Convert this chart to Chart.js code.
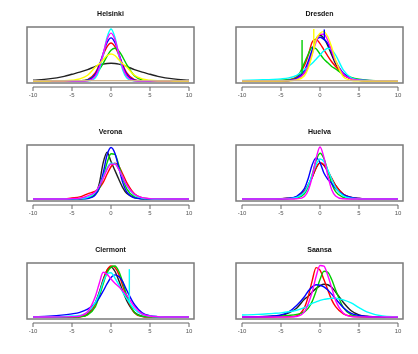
<!DOCTYPE html>
<html>
<head>
<meta charset="utf-8">
<script src="https://cdn.jsdelivr.net/npm/chart.js@4/dist/chart.umd.min.js"></script>
<style>
body{margin:0;background:#fff;}
#wrap{position:relative;width:418px;height:354px;}
.cell{position:absolute;width:209px;height:118px;}
</style>
</head>
<body>
<div id="wrap"></div>
<script>
// shared x grid for all density curves
const xs = [-10,-8,-6,-5,-4,-3,-2,-1.5,-1,-0.5,0,0.5,1,1.5,2,3,4,5,6,8,10]
const xTicks = [-10,-5,0,5,10]

// Helsinki
const hBlack   = [1.5,4,9,13,17,22,28,30.5,32.5,33.7,34,33.7,32.5,30.5,28,22,17,13,9,4,1.5]
const hRed     = [0,0,0,0,0.3,2.5,16,31,50,66,73,66,50,31,16,2.5,0.3,0,0,0,0]
const hGreen   = [0,0,0,0,0.4,2,12,22,34,48,59,63,58,46,32,10,2,0.4,0,0,0]
const hBlue    = [0,0,0,0,0.1,1.5,13,30,53,74,83,74,53,30,13,1.5,0.1,0,0,0,0]
const hCyan    = [0,0,0,0,0,0.3,6,21,50,84,100,84,50,21,6,0.3,0,0,0,0,0]
const hMagenta = [0,0,0,0,0,0.6,10,26,53,80,92,80,53,26,10,0.6,0,0,0,0,0]
const hYellow  = [0,0.1,0.5,1.5,4,11,27,33,41,49,52,49,41,33,27,11,4,1.5,0.5,0.1,0]
const hTan     = [0.8,0.8,0.8,0.8,0.8,0.8,0.8,0.8,0.8,0.8,0.8,0.8,0.8,0.8,0.8,0.8,0.8,0.8,0.8,0.8,0.8]

// Dresden
const dBlack   = [0,0,0,0.2,1,4,15,30,55,80,88,82,68,50,33,12,4,1.5,0.5,0,0]
const dRed     = [0,0,0.3,0.8,2,8,30,50,75,80,72,60,48,37,28,12,4,1.5,0.5,0,0]
const dGreen   = [0,0,0.5,1.5,3,6,35,52,65,62,52,42,35,28,23,13,7,3.5,1.5,0.3,0]
const dBlue    = [0,0,0,0.2,1,5,20,38,60,78,84,80,72,55,38,15,5,2,1,0.2,0]
const dCyan    = [1,2,3,4,6,11,22,28,34,42,50,58,63,60,50,21,6,2,0.8,0.2,0]
const dMagenta = [0,0,0,0.3,1,3,15,30,52,75,90,90,78,58,38,13,4,1.5,0.5,0,0]
const dYellow  = [0,0,0,0,0.3,2,10,25,50,80,92,95,85,65,40,8,1.5,0.3,0,0,0]
const dTan     = [0.8,0.8,0.8,0.8,0.8,0.8,0.8,0.8,0.8,0.8,0.8,0.8,0.8,0.8,0.8,0.8,0.8,0.8,0.8,0.8,0.8]

// Verona
const vBlack   = [0,0,0,0.1,0.5,2.5,10,30,70,90,72,55,38,22,11,2.5,0.5,0.1,0,0,0]
const vRed     = [0,0,0.5,2,4,10,15,21,32,48,62,69,63,48,32,10,2.5,0.6,0.2,0,0]
const vGreen   = [0,0,0,0,0.5,1.5,9,20,42,70,87,86,65,40,20,4,0.8,0.2,0,0,0]
const vBlue    = [0,0,0,0,0.3,1,8,22,50,85,99,88,60,32,14,2,0.3,0,0,0,0]
const vCyan    = [0,0,0,0.3,1,3,13,25,42,60,69,68,57,42,26,8,2,0.5,0,0,0]
const vMagenta = [0,0,0,0.7,1.5,6,14,25,40,57,67,67,57,42,27,9,2.5,0.7,0.2,0,0]

// Huelva
const uBlack   = [0,0,0.8,0.6,1.5,4,15,27,42,60,69,65,53,39,26,9,3,1,0.3,0,0]
const uRed     = [0,0,0.3,0.6,1.5,4,15,27,42,60,70,66,54,40,26,9,3,1,0.3,0,0]
const uGreen   = [0,0,0,0.2,0.6,2,10,24,47,74,88,78,54,30,14,3,0.6,0.2,0,0,0]
const uBlue    = [0,0,0.2,0.5,1.5,5,20,40,66,79,70,50,38,30,20,8,3,1,0.3,0,0]
const uCyan    = [0,0,0,0.3,1,3,13,27,46,66,77,72,56,38,22,6,1.5,0.4,0,0,0]
const uMagenta = [0,0,0,0,0,0.5,5,17,42,78,100,80,45,18,6,0.5,0,0,0,0,0]

// Clermont
const cBlack   = [0,0,0,0.2,1,6,28,48,72,90,96,88,70,50,32,9,1.5,0.3,0,0,0]
const cRed     = [0,0,0,0.1,0.5,5,25,45,70,90,98,95,82,60,38,8,1,0.2,0,0,0]
const cGreen   = [0,0,0,0.1,0.5,4,20,40,64,85,96,98,88,67,42,9,1.2,0.2,0,0,0]
const cBlue    = [0.5,1.5,4,6,9,15,27,37,50,64,76,81,78,68,52,24,8,2.5,0.8,0.1,0]
const cCyan    = [0,0.3,1,2,3,9,28,45,68,83,85,75,62,48,36,15,5,1.5,0.5,0,0]
const cMagenta = [0,0,0.2,0.5,2,10,40,65,86,82,73,65,58,50,42,20,6,2,0.6,0,0]

// Saansa
const sBlack   = [0,0.3,1.5,3,8,17,34,40,48,55,60,63,62,57,48,28,12,4,1.5,0.2,0]
const sRed     = [0,0,0,0.3,0.5,2,18,40,70,95,90,72,52,33,20,6,1.5,0.3,0,0,0]
const sGreen   = [0,0.5,1.5,2,3,5,10,17,30,50,72,88,86,72,52,18,4,1,0.3,0,0]
const sBlue    = [0,0.5,2,4,10,22,39,50,58,62,61,58,52,44,35,18,7,3,1,0.2,0]
const sCyan    = [3.8,5,7,8,10,13,18,22,26,29,32,34,35,36,36,33,27,18,10,2,0.5]
const sMagenta = [0,0,0,0,0.2,1,10,26,48,78,99,98,80,56,32,7,1,0.2,0,0,0]

// vertical spikes: [x, yFrom, yTo]
const dGreenSpike  = [-2.3,14,79]
const dYellowSpike = [-0.8,62,100]
const dBlueSpike   = [0.55,80,99]
const cCyanSpike   = [2.35,28,92]

const col = {black:"#222222",red:"#FF0000",green:"#00CD00",blue:"#0000FF",
  cyan:"#00FFFF",magenta:"#FF00FF",yellow:"#FFFF00",tan:"#D2B48C"}

const panels = [
  {title:"Helsinki", series:[["black",hBlack],["red",hRed],["green",hGreen],["blue",hBlue],["cyan",hCyan],["magenta",hMagenta],["yellow",hYellow],["tan",hTan]], spikes:[]},
  {title:"Dresden", series:[["black",dBlack],["red",dRed],["green",dGreen],["blue",dBlue],["cyan",dCyan],["magenta",dMagenta],["yellow",dYellow],["tan",dTan]],
    spikes:[["green",dGreenSpike],["yellow",dYellowSpike],["blue",dBlueSpike]]},
  {title:"Verona", series:[["black",vBlack],["red",vRed],["green",vGreen],["blue",vBlue],["cyan",vCyan],["magenta",vMagenta]], spikes:[]},
  {title:"Huelva", series:[["black",uBlack],["red",uRed],["green",uGreen],["blue",uBlue],["cyan",uCyan],["magenta",uMagenta]], spikes:[]},
  {title:"Clermont", series:[["black",cBlack],["red",cRed],["green",cGreen],["blue",cBlue],["cyan",cCyan],["magenta",cMagenta]], spikes:[["cyan",cCyanSpike]]},
  {title:"Saansa", series:[["black",sBlack],["red",sRed],["green",sGreen],["blue",sBlue],["cyan",sCyan],["magenta",sMagenta]], spikes:[]}
]

// R style box + detached x axis
const rFrame = {
  id:"rFrame",
  afterDraw(chart){
    const {ctx, chartArea:a} = chart
    const x = chart.scales.x
    ctx.save()
    ctx.strokeStyle = "#7a7a7a"
    ctx.lineWidth = 1.5
    ctx.strokeRect(a.left, a.top, a.width, a.height)
    const y0 = a.bottom + 4
    ctx.lineWidth = 1
    ctx.strokeStyle = "#666"
    ctx.beginPath()
    ctx.moveTo(x.getPixelForValue(xTicks[0]), y0)
    ctx.lineTo(x.getPixelForValue(xTicks[xTicks.length-1]), y0)
    x.ticks.forEach(t=>{
      const px = x.getPixelForValue(t.value)
      ctx.moveTo(px, y0)
      ctx.lineTo(px, y0+4)
    })
    ctx.stroke()
    ctx.restore()
  }
}

const wrap = document.getElementById("wrap")

panels.forEach((p,k)=>{
  const div = document.createElement("div")
  div.className = "cell"
  div.style.left = (k%2)*209 + "px"
  div.style.top = Math.floor(k/2)*118 + "px"
  const cv = document.createElement("canvas")
  cv.width = 209; cv.height = 118
  div.appendChild(cv)
  wrap.appendChild(div)

  const n = p.series.length
  const sets = p.series.map(([c,vals],i)=>({
    data: xs.map((x,j)=>({x:x, y:vals[j]})),
    borderColor: col[c],
    borderWidth: 1.4,
    pointRadius: 0,
    cubicInterpolationMode: "monotone",
    order: n - i + 1
  }))
  p.spikes.forEach(([c,s])=>{
    sets.push({
      data:[{x:s[0],y:s[1]},{x:s[0],y:s[2]}],
      borderColor: col[c],
      borderWidth: 1.4,
      pointRadius: 0,
      tension: 0,
      order: 0
    })
  })

  new Chart(cv,{
    type:"line",
    data:{datasets:sets},
    options:{
      responsive:false,
      animation:false,
      devicePixelRatio:1,
      layout:{padding:{left:27,right:15,top:0,bottom:0}},
      plugins:{
        legend:{display:false},
        tooltip:{enabled:false},
        title:{
          display:true,
          text:p.title,
          color:"#111",
          font:{family:"Liberation Sans, Arial, sans-serif",size:7,weight:"bold",lineHeight:1.2},
          padding:{top:10,bottom:8.6}
        }
      },
      scales:{
        x:{
          type:"linear",
          min:-10.77, max:10.64,
          grid:{display:false},
          border:{display:false},
          afterFit(s){ s.height = 35 },
          afterBuildTicks(s){ s.ticks = xTicks.map(v=>({value:v})) },
          ticks:{
            color:"#555",
            padding:1,
            maxRotation:0,
            font:{family:"Liberation Sans, Arial, sans-serif",size:6}
          }
        },
        y:{
          display:false,
          min:-3.85, max:103.85
        }
      }
    },
    plugins:[rFrame]
  })
})
</script>
</body>
</html>
